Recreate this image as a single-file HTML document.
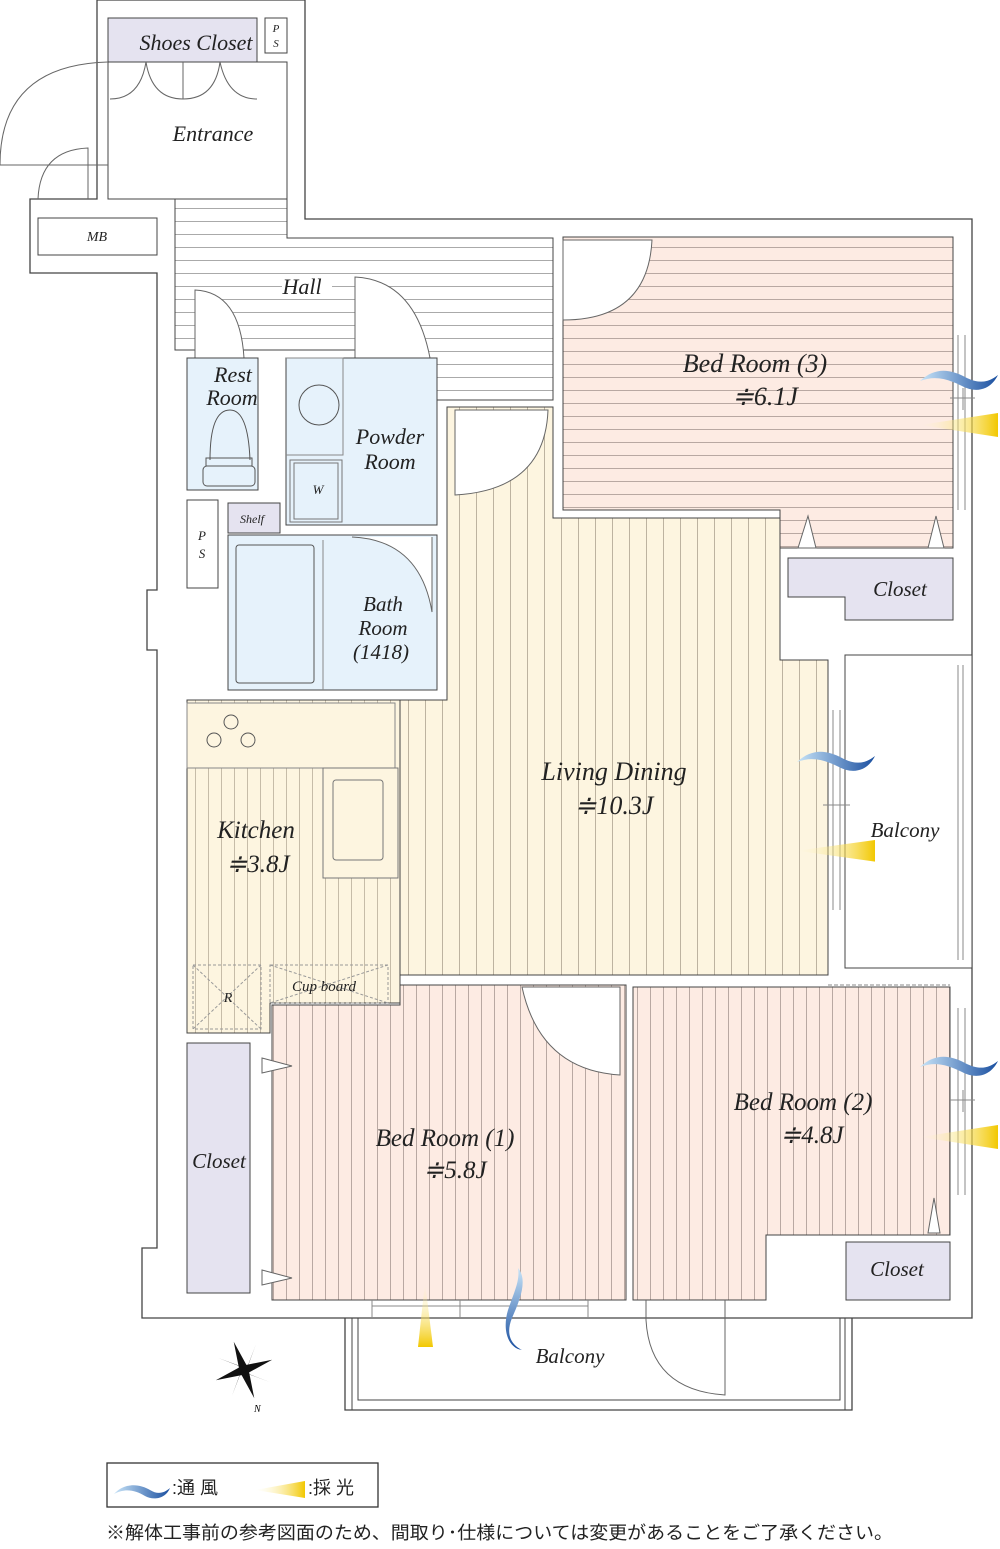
<!DOCTYPE html>
<html><head><meta charset="utf-8"><style>
html,body{margin:0;padding:0;background:#fff;}
svg{display:block;}
.t{font-family:"Liberation Serif",serif;font-style:italic;fill:#222;}
.j{font-family:"Liberation Sans","Noto Sans CJK JP",sans-serif;fill:#222;}
</style></head><body>
<svg width="1000" height="1549" viewBox="0 0 1000 1549" xmlns="http://www.w3.org/2000/svg">
<defs>
<pattern id="vp" width="13" height="10" patternUnits="userSpaceOnUse"><rect width="13" height="10" fill="#fdebe3"/><line x1="0.5" y1="0" x2="0.5" y2="10" stroke="#b9a8a2" stroke-width="1"/></pattern>
<pattern id="hp" width="10" height="13" patternUnits="userSpaceOnUse"><rect width="10" height="13" fill="#fdebe3"/><line x1="0" y1="0.5" x2="10" y2="0.5" stroke="#b9a8a2" stroke-width="1"/></pattern>
<pattern id="yp" width="17" height="10" patternUnits="userSpaceOnUse"><rect width="17" height="10" fill="#fdf5e0"/><line x1="0.5" y1="0" x2="0.5" y2="10" stroke="#bdb3a0" stroke-width="1"/></pattern>
<pattern id="kp" width="13" height="10" patternUnits="userSpaceOnUse"><rect width="13" height="10" fill="#fdf5e0"/><line x1="0.5" y1="0" x2="0.5" y2="10" stroke="#c6bca8" stroke-width="1"/></pattern>
<pattern id="gh" width="10" height="13" patternUnits="userSpaceOnUse"><rect width="10" height="13" fill="#fff"/><line x1="0" y1="0.5" x2="10" y2="0.5" stroke="#aaa" stroke-width="1"/></pattern>
<linearGradient id="bl" x1="0" x2="1"><stop offset="0" stop-color="#c8e4f8"/><stop offset="1" stop-color="#1a4fa0"/></linearGradient>
<linearGradient id="yl" x1="0" x2="1"><stop offset="0" stop-color="#fff8d0" stop-opacity="0"/><stop offset="1" stop-color="#f2c800"/></linearGradient>
<linearGradient id="blv" x1="0" y1="0" x2="0" y2="1"><stop offset="0" stop-color="#c8e4f8"/><stop offset="1" stop-color="#1a4fa0"/></linearGradient>
<linearGradient id="ylv" x1="0" y1="1" x2="0" y2="0"><stop offset="0" stop-color="#f2c800"/><stop offset="1" stop-color="#fff8d0" stop-opacity="0"/></linearGradient>
<g id="wind"><path d="M0,12 C15,-2 30,0 45,8 C58,15 68,14 78,6 C70,22 55,24 42,17 C28,10 15,6 0,12Z" fill="url(#bl)"/></g>
<g id="sun"><path d="M0,12 L78,0 L78,24 Z" fill="url(#yl)"/></g>
</defs>

<g fill="none" stroke="#444" stroke-width="1.3">
<path d="M97,0 H305 V219 H972 V1318 H142 V1248 H157 V650 H147 V590 H157 V273 H30 V199 H97 Z" fill="#fff"/>
<path d="M345,1318 V1410 H852 V1318" />
<path d="M352,1318 V1410 M845,1318 V1410 M358,1318 V1400 H840 V1318" stroke-width="1"/>
</g>

<path d="M175,199 H287 V238 H553 V400 H417 V350 H175 Z" fill="url(#gh)" stroke="#444"/>
<rect x="108" y="62" width="179" height="137" fill="#fff" stroke="#444"/>
<rect x="108" y="18" width="149" height="44" fill="#e5e3f0" stroke="#444"/>
<rect x="265" y="18" width="22" height="35" fill="#fff" stroke="#444"/>
<text class="t" x="196" y="50" font-size="22" text-anchor="middle">Shoes Closet</text>
<text class="t" x="276" y="32" font-size="11" text-anchor="middle">P</text>
<text class="t" x="276" y="47" font-size="11" text-anchor="middle">S</text>
<g fill="none" stroke="#666" stroke-width="1">
<path d="M110,99 Q140,99 146,62 M146,62 Q152,99 183,99 V62 M183,99 Q215,99 220,62 M220,62 Q228,99 257,99"/>
<path d="M0,165 Q0,65 108,62 M0,165 H108"/>
<path d="M88,199 V148 Q40,150 38,199"/>
</g>
<text class="t" x="213" y="141" font-size="22" text-anchor="middle">Entrance</text>
<rect x="38" y="218" width="119" height="37" fill="#fff" stroke="#444"/>
<text class="t" x="97" y="241" font-size="14" text-anchor="middle">MB</text>
<rect x="282" y="275" width="50" height="22" fill="#fff"/>
<text class="t" x="302" y="294" font-size="22" text-anchor="middle">Hall</text>
<g fill="#fff" stroke="#666" stroke-width="1">
<path d="M195,358 V290 Q240,292 244,358 Z"/>
<path d="M355,358 V277 Q415,280 430,358 Z"/>
</g>

<path d="M563,237 H953 V548 H780 V510 H563 Z" fill="url(#hp)" stroke="#444"/>
<path d="M563,240 H652 Q648,320 563,320 Z" fill="#fff" stroke="#666"/>
<g fill="#fff" stroke="#666"><path d="M798,548 L808,516 L816,548Z M928,548 L936,516 L944,548Z"/></g>
<path d="M788,558 H953 V620 H845 V597 H788 Z" fill="#e5e3f0" stroke="#444"/>
<text class="t" x="900" y="596" font-size="21" text-anchor="middle">Closet</text>
<text class="t" x="755" y="372" font-size="26" text-anchor="middle">Bed Room (3)</text>
<text class="t" x="765" y="405" font-size="26" text-anchor="middle">≑6.1J</text>
<g stroke="#888" fill="none"><path d="M958,335 V510 M965,335 V510 M950,398 H975 M963,388 V410"/></g>

<path d="M447,407 H553 V518 H780 V660 H828 V975 H400 V700 H447 Z" fill="url(#yp)" stroke="#444"/>
<path d="M455,410 H548 Q545,490 455,495 Z" fill="#fff" stroke="#666"/>
<rect x="845" y="655" width="127" height="313" fill="#fff" stroke="#444"/>
<g stroke="#888" fill="none"><path d="M833,710 V910 M840,710 V910 M823,805 H850 M833,795 V815 M958,665 V960 M963,665 V960"/></g>
<text class="t" x="614" y="780" font-size="26" text-anchor="middle">Living Dining</text>
<text class="t" x="614" y="814" font-size="26" text-anchor="middle">≑10.3J</text>
<text class="t" x="905" y="837" font-size="21" text-anchor="middle">Balcony</text>

<path d="M187,700 H400 V1003 H270 V1033 H187 Z" fill="url(#kp)" stroke="#444"/>
<rect x="187" y="703" width="208" height="65" fill="#fdf5e0" stroke="#888"/>
<g fill="none" stroke="#555"><circle cx="231" cy="722" r="7"/><circle cx="214" cy="740" r="7"/><circle cx="248" cy="740" r="7"/></g>
<rect x="323" y="768" width="75" height="110" fill="#fdf5e0" stroke="#777"/>
<rect x="333" y="780" width="50" height="80" rx="3" fill="#fdf5e0" stroke="#777"/>
<text class="t" x="256" y="838" font-size="25" text-anchor="middle">Kitchen</text>
<text class="t" x="258" y="872" font-size="25" text-anchor="middle">≑3.8J</text>
<g fill="none" stroke="#999" stroke-dasharray="3,2"><rect x="193" y="965" width="68" height="64"/><rect x="270" y="965" width="118" height="38"/><path d="M193,965 L261,1029 M261,965 L193,1029 M270,965 L388,1003 M388,965 L270,1003"/></g>
<text class="t" x="228" y="1002" font-size="14" text-anchor="middle">R</text>
<text class="t" x="324" y="991" font-size="15" text-anchor="middle">Cup  board</text>

<rect x="187" y="358" width="71" height="132" fill="#e6f2fb" stroke="#444"/>
<text class="t" x="233" y="382" font-size="22" text-anchor="middle">Rest</text>
<text class="t" x="232" y="405" font-size="22" text-anchor="middle">Room</text>
<g fill="none" stroke="#555"><path d="M210,460 Q210,410 230,410 Q248,410 250,460"/><rect x="206" y="458" width="46" height="8"/><rect x="203" y="466" width="52" height="20" rx="4"/></g>
<rect x="286" y="358" width="151" height="167" fill="#e6f2fb" stroke="#444"/>
<path d="M286,358 H343 V455 H286" fill="none" stroke="#888"/>
<circle cx="319" cy="405" r="20" fill="none" stroke="#555"/>
<rect x="290" y="460" width="52" height="62" fill="none" stroke="#777"/>
<rect x="294" y="463" width="44" height="56" fill="none" stroke="#777"/>
<text class="t" x="318" y="494" font-size="13" text-anchor="middle">W</text>
<text class="t" x="390" y="444" font-size="22" text-anchor="middle">Powder</text>
<text class="t" x="390" y="469" font-size="22" text-anchor="middle">Room</text>
<rect x="187" y="500" width="31" height="88" fill="#fff" stroke="#444"/>
<text class="t" x="202" y="540" font-size="13" text-anchor="middle">P</text>
<text class="t" x="202" y="558" font-size="13" text-anchor="middle">S</text>
<rect x="228" y="503" width="52" height="30" fill="#e5e3f0" stroke="#444"/>
<text class="t" x="252" y="523" font-size="12" text-anchor="middle">Shelf</text>
<rect x="228" y="535" width="209" height="155" fill="#e6f2fb" stroke="#444"/>
<rect x="236" y="545" width="78" height="138" rx="3" fill="none" stroke="#555"/>
<line x1="323" y1="540" x2="323" y2="690" stroke="#888"/>
<path d="M352,537 Q420,540 432,612 V537" fill="#fff" stroke="#666"/>
<text class="t" x="383" y="611" font-size="21" text-anchor="middle">Bath</text>
<text class="t" x="383" y="635" font-size="21" text-anchor="middle">Room</text>
<text class="t" x="381" y="659" font-size="21" text-anchor="middle">(1418)</text>

<path d="M400,985 H626 V1300 H272 V1005 H400 Z" fill="url(#vp)" stroke="#444"/>
<path d="M522,987 H620 V1075 Q540,1070 522,987 Z" fill="#fff" stroke="#666"/>
<rect x="187" y="1043" width="63" height="250" fill="#e5e3f0" stroke="#444"/>
<g fill="#fff" stroke="#666"><path d="M262,1058 L292,1066 L262,1073Z M262,1270 L292,1278 L262,1285Z"/></g>
<text class="t" x="219" y="1168" font-size="21" text-anchor="middle">Closet</text>
<text class="t" x="445" y="1146" font-size="25" text-anchor="middle">Bed Room (1)</text>
<text class="t" x="455" y="1178" font-size="25" text-anchor="middle">≑5.8J</text>
<g stroke="#888" fill="none"><path d="M372,1300 V1318 M588,1300 V1318 M372,1306 H588 M460,1300 V1318"/></g>

<path d="M633,987 H950 V1235 H766 V1300 H633 Z" fill="url(#vp)" stroke="#444"/>
<rect x="846" y="1242" width="104" height="58" fill="#e5e3f0" stroke="#444"/>
<text class="t" x="897" y="1276" font-size="21" text-anchor="middle">Closet</text>
<path d="M928,1233 L934,1198 L940,1233Z" fill="#fff" stroke="#666"/>
<text class="t" x="803" y="1110" font-size="25" text-anchor="middle">Bed Room (2)</text>
<text class="t" x="812" y="1143" font-size="25" text-anchor="middle">≑4.8J</text>
<path d="M646,1300 V1320 Q650,1390 725,1395 V1300" fill="none" stroke="#666"/>
<g stroke="#888" fill="none"><path d="M958,1008 V1195 M965,1008 V1195 M950,1100 H975 M963,1090 V1112"/></g>
<line x1="828" y1="985" x2="950" y2="985" stroke="#888" stroke-dasharray="4,2"/>
<text class="t" x="570" y="1363" font-size="21" text-anchor="middle">Balcony</text>

<use href="#wind" transform="translate(920,369)"/>
<use href="#sun" transform="translate(920,413)"/>
<use href="#wind" transform="translate(797,750)"/>
<use href="#sun" transform="translate(797,840) scale(1,0.9)"/>
<use href="#wind" transform="translate(920,1055)"/>
<use href="#sun" transform="translate(920,1125)"/>
<path d="M425,1282 L433,1347 L418,1347Z" fill="url(#ylv)"/>
<path d="M518,1268 C528,1280 520,1300 512,1318 C505,1335 512,1345 522,1350 C508,1348 502,1330 508,1310 C515,1290 520,1280 518,1268Z" fill="url(#blv)"/>

<g transform="translate(244,1370) rotate(-20)" fill="#111">
<path d="M0,-30 L4,-4 L0,0 L-4,-4Z M0,30 L4,4 L0,0 L-4,4Z M-30,0 L-4,-4 L0,0 L-4,4Z M30,0 L4,-4 L0,0 L4,4Z"/>
<path d="M-20,-20 L0,-3 L3,0Z M20,20 L0,3 L-3,0Z M20,-20 L3,0 L0,3Z M-20,20 L-3,0 L0,-3Z"/>
</g>
<text x="254" y="1412" font-size="10" font-family="Liberation Serif" font-style="italic">N</text>

<rect x="107" y="1463" width="271" height="44" fill="#fff" stroke="#333" stroke-width="1.3"/>
<path d="M114,1494 C125,1482 140,1484 150,1490 C158,1495 164,1493 170,1488 C165,1500 152,1500 145,1496 C135,1490 125,1488 114,1494Z" fill="url(#bl)"/>
<text class="j" x="172" y="1494" font-size="18">:通 風</text>
<path d="M255,1490 L305,1481 L305,1498Z" fill="url(#yl)"/>
<text class="j" x="308" y="1494" font-size="18">:採 光</text>
<text class="j" x="106" y="1539" font-size="18" textLength="787" lengthAdjust="spacingAndGlyphs">※解体工事前の参考図面のため、間取り･仕様については変更があることをご了承ください。</text>
</svg>
</body></html>
